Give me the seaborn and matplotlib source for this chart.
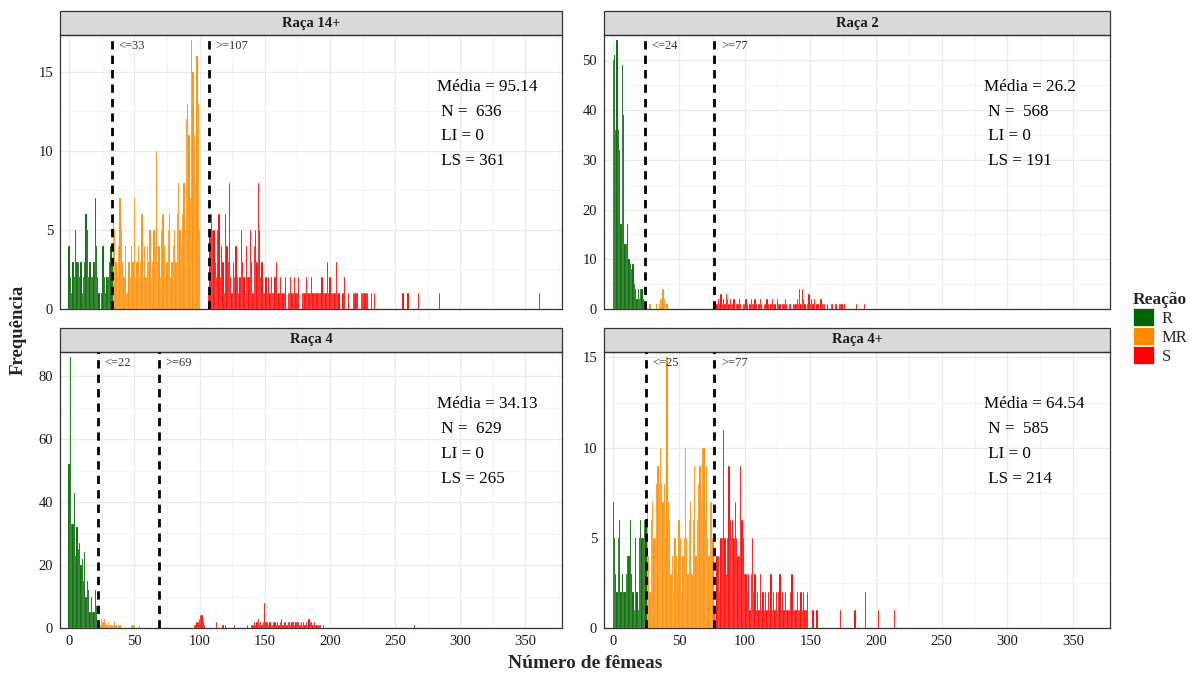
import numpy as np
import pandas as pd
import seaborn as sns
import matplotlib.pyplot as plt
import matplotlib.transforms as mtransforms
from matplotlib.patches import Patch, Rectangle
from matplotlib.ticker import MultipleLocator

# painéis e estatísticas
racas = ["Raça 14+", "Raça 2", "Raça 4", "Raça 4+"]
lim_r = [33, 24, 22, 25]      # R  <= lim_r
lim_s = [107, 77, 69, 77]     # S  >= lim_s
medias = [95.14, 26.2, 34.13, 64.54]
n_obs = [636, 568, 629, 585]
li = [0, 0, 0, 0]
ls = [361, 191, 265, 214]
y_passo = [5, 10, 20, 5]

# contagens por número de fêmeas (classes de largura 1), estimadas da figura
# Raça 14+
r14_a_ini = 0
r14_a = [4, 2, 1, 3, 2, 5, 3, 3, 2, 3, 1, 2, 3, 6, 5, 2, 3, 2, 2, 3, 7, 4, 2, 1, 0, 1, 4, 2, 1, 2, 2, 3, 4, 3,
         6, 5, 3, 2, 4, 7, 5, 3, 2, 4, 1, 1, 3, 2, 4, 3, 7, 2, 3, 4, 2, 3, 6, 2, 4, 2, 4, 3, 5, 2,
         3, 5, 4, 10, 3, 4, 2, 5, 6, 4, 2, 3, 5, 6, 2, 3, 4, 5, 3, 6, 8, 5, 4, 6, 8, 5, 12, 13, 11, 7,
         17, 15, 11, 8, 16, 13, 5]
r14_b_ini = 107
r14_b = [1, 5, 6, 5, 5, 3, 2, 5, 6, 2, 4, 3, 1, 6, 4, 3, 8, 2, 1, 3, 2, 4, 2, 1, 2, 5, 3, 2, 1, 4,
         2, 2, 5, 3, 1, 4, 5, 3, 8, 5, 2, 3, 1, 1, 2, 1, 2, 1, 2, 1, 1, 2, 3, 1, 1, 2, 1, 1, 1, 2,
         0, 1, 1, 2, 1, 1, 2, 1, 1, 2, 0, 0, 1, 1, 1, 2, 1, 1, 1, 2, 1, 1, 1, 1, 1, 1, 1, 2, 1, 1,
         1, 3, 1, 2, 1, 1, 1, 1, 3, 1, 1, 0, 0, 1, 2, 0, 0, 1, 0, 0, 0, 1, 1, 1, 1, 0, 0, 1, 1, 1,
         1, 1, 1, 0, 0, 1, 0, 1]
r14_soltos = [256, 260, 268, 284, 361]

# Raça 2
r2_a_ini = 0
r2_a = [50, 51, 36, 54, 36, 32, 17, 49, 39, 13, 13, 17, 10, 9, 8, 9, 5, 4, 2, 4, 2, 4, 4, 2, 0,
        0, 0, 0, 1, 0, 0, 0, 0, 1, 0, 1, 2, 2, 4, 2, 0, 1]
r2_b_ini = 77
r2_b = [1, 0, 1, 2, 1, 3, 1, 2, 1, 3, 2, 1, 2, 1, 1, 2, 0, 1, 1, 2, 1, 0, 1, 1, 2, 1, 0, 1, 2, 1,
        1, 2, 1, 0, 1, 2, 1, 0, 1, 1, 2, 1, 0, 1, 2, 1, 1, 0, 2, 1, 1, 0, 1, 1, 2, 1, 0, 1, 1, 0,
        1, 1, 1, 2, 1, 4, 1, 4, 2, 1, 0, 1, 3, 1, 2, 1, 2, 0, 1, 1, 0, 2, 1, 1, 1, 0, 1, 0, 0, 1,
        1, 0, 1, 1, 0, 1, 1, 1, 0, 1]
r2_soltos = [185, 191]

# Raça 4
r4_a_ini = 0
r4_a = [52, 86, 33, 33, 43, 23, 32, 25, 27, 20, 22, 15, 24, 10, 15, 12, 5, 10, 5, 5, 12, 7, 2,
        0, 1, 3, 2, 3, 2, 1, 2, 1, 1, 1, 1, 2, 1, 0, 1, 1, 0, 0, 0, 0, 0, 0, 0, 0, 1, 1, 1, 0, 0, 0, 1]
r4_b_ini = 96
r4_b = [1, 1, 2, 2, 3, 4, 4, 2, 1, 0, 0, 0, 0, 0, 0, 0, 0, 2, 0, 0, 0, 0, 1, 0, 1, 0, 0, 0, 0, 0,
        0, 1, 0, 0, 0, 0, 0, 0, 0, 0, 0, 1, 0, 0, 1, 1, 2, 1, 2, 3, 1, 2, 1, 2, 8, 2, 2, 1, 2, 1,
        1, 2, 2, 1, 2, 1, 2, 3, 1, 2, 2, 1, 2, 2, 1, 2, 2, 1, 2, 2, 2, 1, 2, 1, 2, 1, 2, 1, 3, 2,
        2, 1, 2, 1, 1, 1, 1, 1, 0, 1]
r4_soltos = [265]

# Raça 4+
r4p_a_ini = 0
r4p_a = [7, 5, 3, 2, 5, 6, 2, 3, 2, 2, 3, 4, 4, 6, 3, 2, 1, 5, 2, 1, 5, 6, 5, 5, 6, 6,
         7, 4, 2, 6, 7, 5, 5, 8, 9, 8, 10, 8, 7, 8, 5, 15, 7, 6, 3, 4, 2, 5, 4, 3, 6, 5, 2, 4, 5, 10,
         5, 3, 6, 7, 3, 6, 9, 4, 6, 8, 9, 7, 10, 10, 6, 9, 5, 4, 7, 7, 5]
r4p_b_ini = 77
r4p_b = [1, 0, 4, 4, 2, 5, 5, 11, 5, 3, 5, 9, 6, 5, 6, 5, 7, 5, 4, 4, 9, 6, 5, 3, 3, 2, 3, 1, 3, 5,
         2, 3, 1, 2, 1, 3, 1, 2, 1, 2, 1, 2, 1, 3, 1, 2, 1, 2, 1, 2, 3, 1, 2, 1, 2, 1, 1, 1, 2, 3,
         1, 1, 1, 2, 1, 1, 2, 1, 2, 1, 1, 2]
r4p_soltos = [152, 155, 173, 184, 192, 192, 202, 214]

cores = {"R": "#006400", "MR": "#FF8C00", "S": "#FF0000"}


def expandir(ini, cont):
    return np.repeat(np.arange(ini, ini + len(cont)), cont)


dados = [
    np.concatenate([expandir(r14_a_ini, r14_a), expandir(r14_b_ini, r14_b), r14_soltos]),
    np.concatenate([expandir(r2_a_ini, r2_a), expandir(r2_b_ini, r2_b), r2_soltos]),
    np.concatenate([expandir(r4_a_ini, r4_a), expandir(r4_b_ini, r4_b), r4_soltos]),
    np.concatenate([expandir(r4p_a_ini, r4p_a), expandir(r4p_b_ini, r4p_b), r4p_soltos]),
]

sns.set_style("white")
plt.rcParams['font.family'] = ['Liberation Serif', 'DejaVu Serif']

W, H = 1197, 674
fig = plt.figure(figsize=(W / 100, H / 100), dpi=100)
caixas = [(60, 35, 562, 309), (604, 35, 1110, 309), (60, 352, 562, 628), (604, 352, 1110, 628)]

for i, (x0, y0, x1, y1) in enumerate(caixas):
    ax = fig.add_axes([x0 / W, 1 - y1 / H, (x1 - x0) / W, (y1 - y0) / H])
    df = pd.DataFrame({"femeas": dados[i]})
    df["reacao"] = np.where(df.femeas <= lim_r[i], "R", np.where(df.femeas >= lim_s[i], "S", "MR"))
    sns.histplot(data=df, x="femeas", hue="reacao", hue_order=["R", "MR", "S"], palette=cores,
                 discrete=True, multiple="stack", alpha=1, linewidth=0.12, edgecolor="white",
                 legend=False, ax=ax)
    ymax = df.femeas.value_counts().max()
    ax.set_xlim(-7, 378)
    ax.set_ylim(0, ymax * 1.02)
    ax.set_xlabel("")
    ax.set_ylabel("")

    ax.xaxis.set_major_locator(MultipleLocator(50))
    ax.xaxis.set_minor_locator(MultipleLocator(25))
    ax.yaxis.set_major_locator(MultipleLocator(y_passo[i]))
    ax.yaxis.set_minor_locator(MultipleLocator(y_passo[i] / 2))
    ax.grid(which="major", color="#EBEBEB", lw=0.9)
    ax.grid(which="minor", color="#F2F2F2", lw=0.5)
    ax.set_axisbelow(True)
    for s in ax.spines.values():
        s.set_visible(True)
        s.set_color("#333333")
        s.set_linewidth(0.9)
    ax.tick_params(which="major", length=3, width=0.8, color="#333333", labelsize=10.5,
                   labelcolor="#1A1A1A", pad=2)
    ax.tick_params(which="minor", length=0)
    if i < 2:
        ax.tick_params(axis="x", which="both", length=0, labelbottom=False)

    ax.axvline(lim_r[i], color="black", lw=2, ls=(0, (3, 2.2)), zorder=4)
    ax.axvline(lim_s[i], color="black", lw=2, ls=(0, (3, 2.2)), zorder=4)
    ax.text(lim_r[i] + 5, ymax, f"<={lim_r[i]}", fontsize=9, ha="left", va="top", color="#333333")
    ax.text(lim_s[i] + 5, ymax, f">={lim_s[i]}", fontsize=9, ha="left", va="top", color="#333333")

    tr = mtransforms.blended_transform_factory(ax.transData, ax.transAxes)
    textos = [f"Média = {medias[i]}", f" N =  {n_obs[i]}", f" LI = {li[i]}", f" LS = {ls[i]}"]
    for t, fy in zip(textos, [0.81, 0.72, 0.63, 0.54]):
        ax.text(282, fy, t, transform=tr, fontsize=12.3, ha="left", va="center", color="black")

    h = 24 / (y1 - y0)
    ax.add_patch(Rectangle((0, 1), 1, h, transform=ax.transAxes, clip_on=False,
                           facecolor="#D9D9D9", edgecolor="#333333", lw=0.9))
    ax.text(0.5, 1 + h / 2, racas[i], transform=ax.transAxes, ha="center", va="center",
            fontsize=10.5, fontweight="bold", color="#1A1A1A")

fig.text(585 / W, 1 - 664 / H, "Número de fêmeas", ha="center", va="center",
         fontsize=14, fontweight="bold")
fig.text(18 / W, 1 - 330 / H, "Frequência", ha="center", va="center", rotation=90,
         fontsize=13.5, fontweight="bold")

alcas = [Patch(facecolor=cores[k], edgecolor="white", lw=0.5) for k in ["R", "MR", "S"]]
leg = fig.legend(alcas, ["R", "MR", "S"], loc="upper left", bbox_to_anchor=(1121 / W, 1 - 280 / H),
                 frameon=False, title="Reação", alignment="left", fontsize=12,
                 handlelength=1.3, handleheight=1.3, labelspacing=0.02, handletextpad=0.45,
                 borderpad=0.2)
leg.get_title().set_fontweight("bold")
leg.get_title().set_fontsize(12.5)

fig.savefig("out.png", dpi=100)
